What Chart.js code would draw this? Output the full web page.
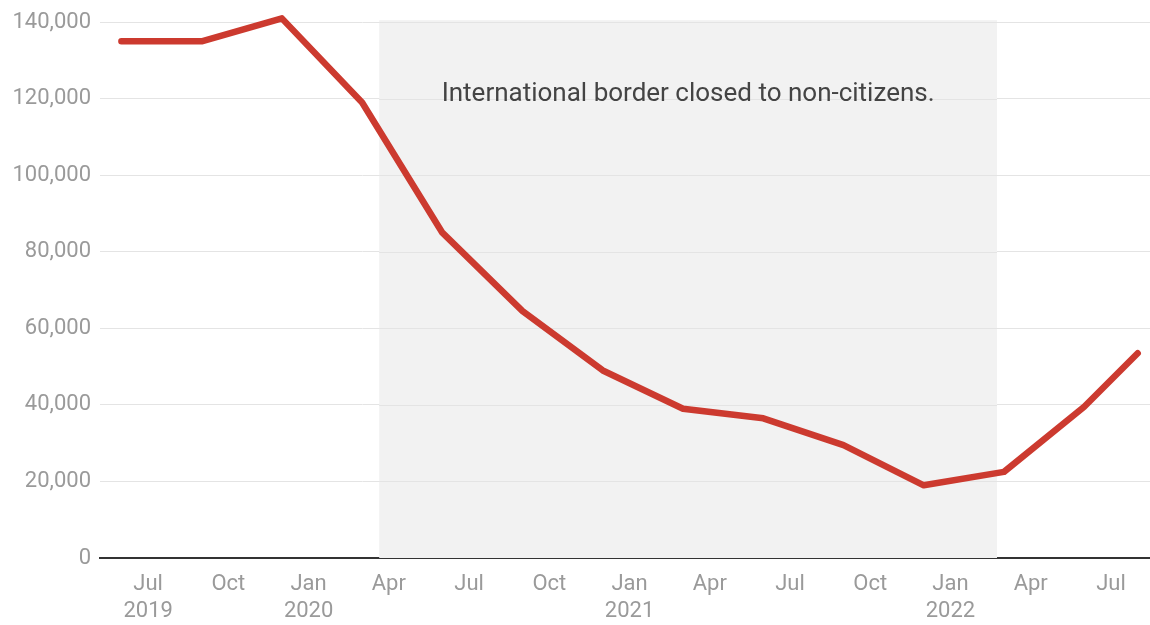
<!DOCTYPE html>
<html>
<head>
<meta charset="utf-8">
<script src="https://cdn.jsdelivr.net/npm/chart.js@4"></script>
<style>
  html, body { margin: 0; padding: 0; background: #fff; }
  canvas { display: block; }
</style>
</head>
<body>
<canvas id="chart" width="1150" height="625"></canvas>
<script>
// Month index: 0 = Jan 2019
const pointMonths = [5, 8, 11, 14, 17, 20, 23, 26, 29, 32, 35, 38, 41, 43];
const arrivals = [135000, 135000, 141000, 119000, 85000, 64500, 49000, 39000, 36500, 29500, 19000, 22500, 39500, 53500];

const tickMonths = [6, 9, 12, 15, 18, 21, 24, 27, 30, 33, 36, 39, 42];
const tickLabels = [['Jul', '2019'], 'Oct', ['Jan', '2020'], 'Apr', 'Jul', 'Oct', ['Jan', '2021'], 'Apr', 'Jul', 'Oct', ['Jan', '2022'], 'Apr', 'Jul'];

const borderClosed = [14.64, 37.74]; // ~20 Mar 2020 to ~21 Feb 2022
const noteText = 'International border closed to non-citizens.';

const font = 'Roboto, "Noto Sans", sans-serif';

// shaded period + label, drawn under the line
const shadePlugin = {
  id: 'shade',
  beforeDatasetsDraw(chart) {
    const { ctx, chartArea, scales } = chart;
    const x0 = scales.x.getPixelForValue(borderClosed[0]);
    const x1 = scales.x.getPixelForValue(borderClosed[1]);
    ctx.save();
    ctx.fillStyle = '#f2f2f2';
    ctx.fillRect(x0, chartArea.top - 2, x1 - x0, chartArea.bottom - chartArea.top + 2);
    // redraw the gridlines over the shade
    ctx.strokeStyle = '#e4e4e4';
    ctx.lineWidth = 1;
    scales.y.ticks.forEach(t => {
      if (t.value === 0) return;
      const y = Math.round(scales.y.getPixelForValue(t.value)) + 0.5;
      ctx.beginPath();
      ctx.moveTo(x0, y);
      ctx.lineTo(x1, y);
      ctx.stroke();
    });
    ctx.fillStyle = '#444';
    ctx.font = '26px ' + font;
    ctx.textAlign = 'center';
    ctx.textBaseline = 'middle';
    ctx.fillText(noteText, (x0 + x1) / 2, scales.y.getPixelForValue(121200));
    ctx.restore();
  }
};

const ctx = document.getElementById('chart').getContext('2d');
const chart = new Chart(ctx, {
  type: 'line',
  data: {
    datasets: [{
      data: pointMonths.map((m, i) => ({ x: m, y: arrivals[i] })),
      borderColor: '#cc3a2f',
      borderWidth: 6.5,
      borderJoinStyle: 'round',
      borderCapStyle: 'round',
      pointRadius: 0,
      tension: 0,
      clip: false
    }]
  },
  options: {
    responsive: false,
    animation: false,
    layout: { padding: { top: 22, right: 0, left: 0, bottom: 0 } },
    plugins: { legend: { display: false }, tooltip: { enabled: false } },
    scales: {
      x: {
        type: 'linear',
        min: 4.2,
        max: 43.46,
        afterBuildTicks(scale) {
          scale.ticks = tickMonths.map(v => ({ value: v }));
        },
        afterFit(scale) { scale.height = 67; },
        grid: { display: false, drawTicks: false },
        border: { display: true, color: '#333', width: 2 },
        ticks: {
          autoSkip: false,
          maxRotation: 0,
          padding: 13,
          color: '#9a9a9a',
          font: { family: font, size: 22, lineHeight: 1.22 },
          callback: (v) => tickLabels[tickMonths.indexOf(v)]
        }
      },
      y: {
        min: 0,
        max: 140000,
        afterFit(scale) { scale.width = 100; },
        grid: { color: '#e4e4e4', lineWidth: 1, drawTicks: false },
        border: { display: false },
        ticks: {
          stepSize: 20000,
          padding: 9,
          color: '#9a9a9a',
          font: { family: font, size: 22 },
          callback: (v) => v.toLocaleString('en-US')
        }
      }
    }
  },
  plugins: [shadePlugin]
});
</script>
</body>
</html>
